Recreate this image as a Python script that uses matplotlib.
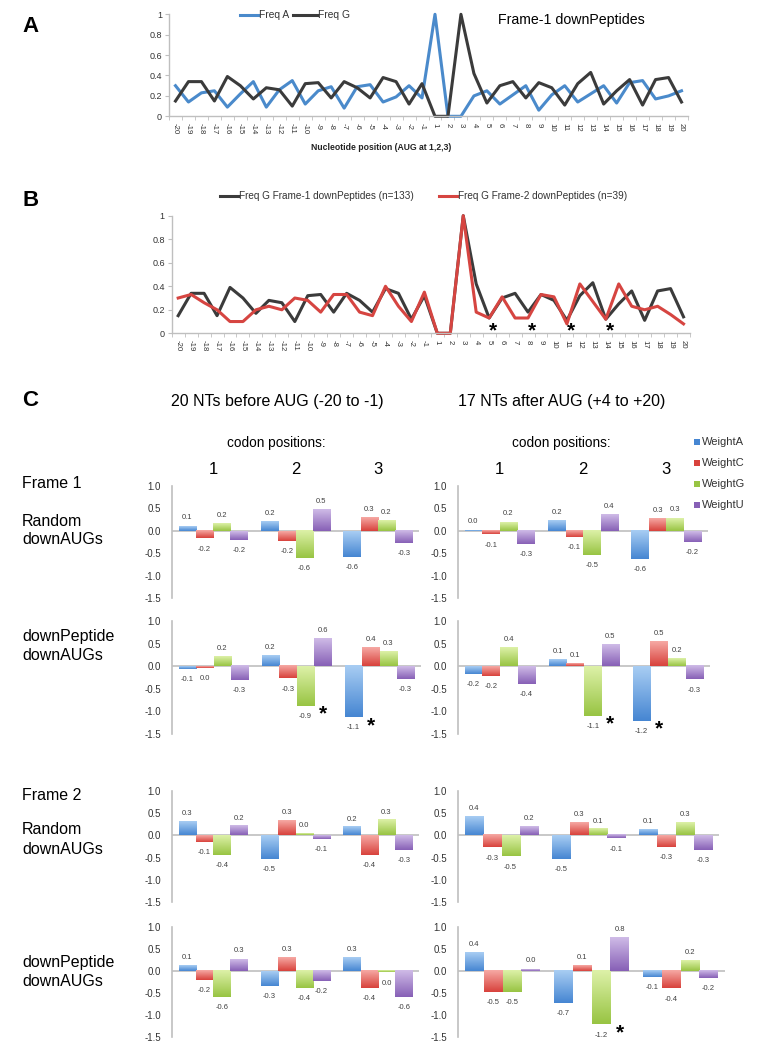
import numpy as np
import matplotlib
matplotlib.use('Agg')
import matplotlib.pyplot as plt
from matplotlib.lines import Line2D
from matplotlib.patches import Rectangle
from matplotlib.colors import LinearSegmentedColormap

plt.rcParams['font.family'] = ['Liberation Sans', 'DejaVu Sans']

# ---------------- data ----------------
positions = [str(i) for i in range(-20, 0)] + [str(i) for i in range(1, 21)]

freq_a = [0.30, 0.14, 0.23, 0.25, 0.09, 0.22, 0.34, 0.09, 0.26, 0.35,
          0.12, 0.25, 0.29, 0.08, 0.29, 0.31, 0.14, 0.19, 0.30, 0.18,
          1.00, 0.00, 0.00, 0.20, 0.25, 0.12, 0.21, 0.30, 0.06, 0.21,
          0.30, 0.14, 0.22, 0.30, 0.13, 0.33, 0.35, 0.17, 0.20, 0.25]
freq_g_f1 = [0.15, 0.34, 0.34, 0.15, 0.39, 0.30, 0.17, 0.28, 0.26, 0.10,
             0.32, 0.33, 0.18, 0.34, 0.28, 0.18, 0.38, 0.34, 0.12, 0.32,
             0.00, 0.00, 1.00, 0.42, 0.13, 0.30, 0.34, 0.18, 0.33, 0.28,
             0.11, 0.32, 0.43, 0.12, 0.25, 0.36, 0.11, 0.36, 0.38, 0.14]
freq_g_f2 = [0.30, 0.33, 0.26, 0.20, 0.10, 0.10, 0.20, 0.23, 0.20, 0.30,
             0.28, 0.18, 0.33, 0.33, 0.18, 0.15, 0.40, 0.23, 0.10, 0.35,
             0.00, 0.00, 1.00, 0.18, 0.13, 0.31, 0.13, 0.13, 0.33, 0.31,
             0.08, 0.42, 0.27, 0.12, 0.42, 0.23, 0.20, 0.23, 0.16, 0.08]
star_b_nt = ['5', '8', '11', '14']

series = ['WeightA', 'WeightC', 'WeightG', 'WeightU']
codons = ['1', '2', '3']
# each: rows = codon position 1..3, columns = A, C, G, U
f1_rand_before = [[0.11, -0.17, 0.16, -0.20],
                  [0.21, -0.22, -0.61, 0.48],
                  [-0.58, 0.30, 0.24, -0.27]]
f1_rand_after = [[0.02, -0.08, 0.20, -0.30],
                 [0.23, -0.14, -0.54, 0.36],
                 [-0.63, 0.27, 0.29, -0.24]]
f1_pep_before = [[-0.06, -0.04, 0.21, -0.31],
                 [0.24, -0.27, -0.88, 0.61],
                 [-1.13, 0.41, 0.33, -0.28]]
f1_pep_after = [[-0.17, -0.21, 0.42, -0.39],
                [0.14, 0.06, -1.10, 0.48],
                [-1.21, 0.54, 0.17, -0.29]]
f2_rand_before = [[0.31, -0.14, -0.44, 0.21],
                  [-0.52, 0.33, 0.04, -0.08],
                  [0.18, -0.44, 0.34, -0.33]]
f2_rand_after = [[0.42, -0.27, -0.47, 0.20],
                 [-0.53, 0.28, 0.14, -0.07],
                 [0.13, -0.26, 0.28, -0.32]]
f2_pep_before = [[0.13, -0.21, -0.60, 0.27],
                 [-0.34, 0.30, -0.39, -0.24],
                 [0.30, -0.39, -0.04, -0.60]]
f2_pep_after = [[0.42, -0.49, -0.48, 0.04],
                [-0.74, 0.12, -1.22, 0.76],
                [-0.14, -0.40, 0.24, -0.16]]
# significant cells: (row, column, codon index, base index)
stars_c = [(1, 0, 1, 2), (1, 0, 2, 0), (1, 1, 1, 2), (1, 1, 2, 0), (3, 1, 1, 2)]

# ---------------- layout helpers ----------------
W, H = 758, 1050
fig = plt.figure(figsize=(W / 100, H / 100), dpi=100)


def rect(l, t, r, b):
    return [l / W, 1 - b / H, (r - l) / W, (b - t) / H]


def fx(px):
    return px / W


def fy(py):
    return 1 - py / H


GRAY = '#BFBFBF'
TXT = '#333333'
BLUE = '#4A8ACB'
DARK = '#3B3B3B'
RED = '#D64541'
STAR_FS = 15


def style_line_axes(ax):
    ax.set_xlim(-0.5, len(positions) - 0.5)
    ax.set_ylim(0, 1)
    ax.set_yticks(np.arange(0, 1.01, 0.2))
    ax.set_yticklabels(['0', '0.2', '0.4', '0.6', '0.8', '1'], fontsize=6.5, color=TXT)
    ax.set_xticks(np.arange(len(positions)))
    ax.set_xticklabels(positions, rotation=270, fontsize=5.6, color=TXT)
    ax.set_xticks(np.arange(len(positions) + 1) - 0.5, minor=True)
    ax.tick_params(axis='x', which='major', length=0, pad=5)
    ax.tick_params(axis='x', which='minor', length=3, color=GRAY)
    ax.tick_params(axis='y', length=3, color=GRAY, pad=2)
    for s in ['top', 'right']:
        ax.spines[s].set_visible(False)
    for s in ['left', 'bottom']:
        ax.spines[s].set_color(GRAY)
        ax.spines[s].set_linewidth(1.0)
    ax.patch.set_alpha(0)


def legend_line(x0, x1, y, color, label, fs):
    fig.add_artist(Line2D([fx(x0), fx(x1)], [fy(y), fy(y)], color=color, lw=2.2,
                          transform=fig.transFigure))
    fig.text(fx(x1 + 1), fy(y), label, fontsize=fs, color=TXT, va='center', ha='left')


def star(ax, x, y):
    ax.annotate('*', xy=(x, y), xytext=(0, -0.45 * STAR_FS), textcoords='offset points',
                ha='center', va='baseline', fontsize=STAR_FS, fontweight='bold', zorder=5)


# ---------------- Panel A ----------------
xpos = np.arange(len(positions))
axA = fig.add_axes(rect(169, 14.3, 688, 116.3))
axA.plot(xpos, freq_a, color=BLUE, lw=2.2, clip_on=False)
axA.plot(xpos, freq_g_f1, color=DARK, lw=2.2, clip_on=False)
style_line_axes(axA)
fig.text(fx(22), fy(27), 'A', fontsize=16, fontweight='bold', va='center', ha='left')
legend_line(240, 258, 15, BLUE, 'Freq A', 7.4)
legend_line(293, 317, 15, DARK, 'Freq G', 7.4)
fig.text(fx(571), fy(20), 'Frame-1 downPeptides', fontsize=10.2, ha='center', va='center')
fig.text(fx(381), fy(148), 'Nucleotide position (AUG at 1,2,3)', fontsize=6.2,
         fontweight='bold', ha='center', va='center', color='#222222')

# ---------------- Panel B ----------------
axB = fig.add_axes(rect(171.7, 215.7, 690, 333.3))
axB.plot(xpos, freq_g_f1, color=DARK, lw=2.2, clip_on=False)
axB.plot(xpos, freq_g_f2, color=RED, lw=2.2, clip_on=False)
style_line_axes(axB)
for nt in star_b_nt:
    i = positions.index(nt)
    star(axB, i + 0.3, 0.055)
fig.text(fx(22), fy(200), 'B', fontsize=16, fontweight='bold', va='center', ha='left')
legend_line(220, 238, 196, DARK, 'Freq G Frame-1 downPeptides (n=133)', 7.2)
legend_line(439, 457, 196, RED, 'Freq G Frame-2 downPeptides (n=39)', 7.2)

# ---------------- Panel C ----------------
bar_colors = [('#A8CDF3', '#4686D2'), ('#F6A9A4', '#D8423C'),
              ('#DDF1A8', '#98C443'), ('#CFBBE7', '#8760B6')]
cmaps = [LinearSegmentedColormap.from_list('c%d' % k, [lt, dk]) for k, (lt, dk) in enumerate(bar_colors)]

grid = [[f1_rand_before, f1_rand_after],
        [f1_pep_before, f1_pep_after],
        [f2_rand_before, f2_rand_after],
        [f2_pep_before, f2_pep_after]]
rows_px = [(486, 598), (621, 734), (790.7, 902.3), (926.7, 1036.7)]
left_w = [247, 249, 247, 247]
right_w = [250, 252, 261, 267]
bw = 0.21
grad = np.linspace(0, 1, 64).reshape(-1, 1)

axes_c = {}
for r, (top, bot) in enumerate(rows_px):
    for c in range(2):
        x0 = 172 if c == 0 else 458
        w = left_w[r] if c == 0 else right_w[r]
        ax = fig.add_axes(rect(x0, top, x0 + w, bot))
        axes_c[(r, c)] = ax
        vals = np.array(grid[r][c])
        xc = np.arange(len(codons))
        for j in range(len(series)):
            bars = ax.bar(xc + (j - 1.5) * bw, vals[:, j], width=bw, color='none',
                          edgecolor='none', zorder=2)
            for b, v in zip(bars, vals[:, j]):
                bx, by, bwid, bh = b.get_x(), b.get_y(), b.get_width(), b.get_height()
                ylo, yhi = min(by, by + bh), max(by, by + bh)
                ax.imshow(grad, cmap=cmaps[j], extent=(bx, bx + bwid, ylo, yhi),
                          aspect='auto', origin='upper', zorder=2, interpolation='bilinear')
                lab = '%.1f' % v
                if lab == '-0.0':
                    lab = '0.0'
                if v >= 0:
                    ax.annotate(lab, xy=(bx + bwid / 2, yhi), xytext=(0, 3.2),
                                textcoords='offset points', ha='center', va='bottom',
                                fontsize=5.5, color='#404040')
                else:
                    ax.annotate(lab, xy=(bx + bwid / 2, ylo), xytext=(0, -5.2),
                                textcoords='offset points', ha='center', va='top',
                                fontsize=5.5, color='#404040')
        ax.axhline(0, color=GRAY, lw=1.2, zorder=1)
        ax.set_xlim(-0.5, len(codons) - 0.5)
        ax.set_ylim(-1.5, 1.0)
        ax.set_yticks([1.0, 0.5, 0.0, -0.5, -1.0, -1.5])
        ax.set_yticklabels(['1.0', '0.5', '0.0', '-0.5', '-1.0', '-1.5'], fontsize=7, color=TXT)
        ax.tick_params(axis='y', length=0, pad=8)
        ax.set_xticks([])
        for s in ['top', 'right', 'bottom']:
            ax.spines[s].set_visible(False)
        ax.spines['left'].set_color(GRAY)
        ax.spines['left'].set_linewidth(1.2)
        ax.patch.set_alpha(0)

for (r, c, ci, bi) in stars_c:
    ax = axes_c[(r, c)]
    v = grid[r][c][ci][bi]
    xs = ci + (bi - 1.5) * bw + bw
    star(ax, xs, v - 0.1)

fig.text(fx(22), fy(400), 'C', fontsize=16, fontweight='bold', va='center', ha='left')
fig.text(fx(277), fy(401), '20 NTs before AUG (-20 to -1)', fontsize=11.5, ha='center', va='center')
fig.text(fx(562), fy(401), '17 NTs after AUG (+4 to +20)', fontsize=11.5, ha='center', va='center')
fig.text(fx(276), fy(443), 'codon positions:', fontsize=9.8, ha='center', va='center')
fig.text(fx(561), fy(443), 'codon positions:', fontsize=9.8, ha='center', va='center')

for c in range(2):
    ax = axes_c[(0, c)]
    for i, lab in enumerate(codons):
        ax.annotate(lab, xy=(i, 1.0), xycoords=('data', 'data'), xytext=(0, 12),
                    textcoords='offset points', ha='center', va='center', fontsize=12,
                    annotation_clip=False)

row_labels = [('Frame 1', 484), ('Random', 521), ('downAUGs', 540),
              ('downPeptide', 636), ('downAUGs', 656),
              ('Frame 2', 795), ('Random', 829), ('downAUGs', 849),
              ('downPeptide', 962), ('downAUGs', 981)]
for txt, y in row_labels:
    fig.text(fx(22), fy(y), txt, fontsize=11.5, ha='left', va='center')

for k, name in enumerate(series):
    y = 442 + 21 * k
    fig.add_artist(Rectangle((fx(694), fy(y + 3)), 6 / W, 6 / H, transform=fig.transFigure,
                             facecolor=bar_colors[k][1], edgecolor='none'))
    fig.text(fx(702), fy(y), name, fontsize=8, ha='left', va='center', color=TXT)

fig.savefig('out.png', dpi=100)
